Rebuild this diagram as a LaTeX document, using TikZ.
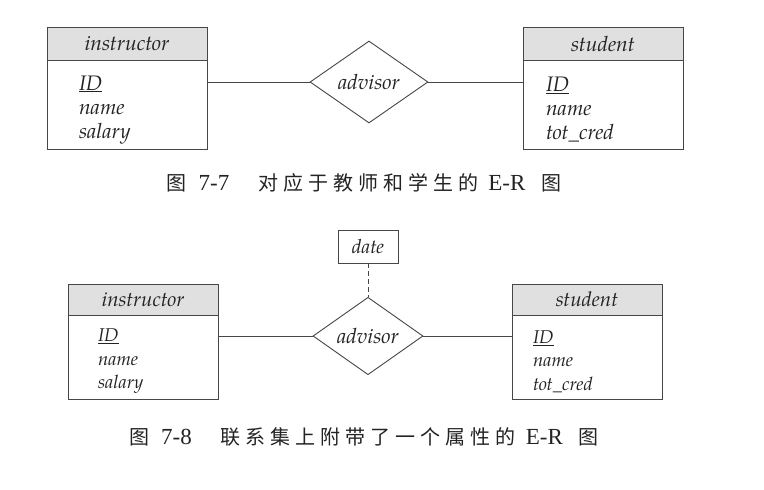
\documentclass[tikz,border=0pt]{standalone}
\usepackage{fontspec}
\setmainfont{TeX Gyre Pagella}
\newfontfamily\cjk[LetterSpace=25]{Noto Sans CJK SC}
\newfontfamily\capnum{Liberation Serif}
\usetikzlibrary{
  shapes.geometric, % Shape "diamond"
  positioning,      % Function "of" (e.g. [below=of x])
}
\definecolor{hdrgray}{RGB}{224,224,224}
\definecolor{lngray}{RGB}{70,70,70}
\definecolor{txtgray}{RGB}{35,35,35}
\newcommand{\key}[1]{\underline{#1}}
\newcommand{\capsize}{\fontsize{20}{24}\selectfont}
\newcommand{\capn}[1]{{\capnum\fontsize{23}{24}\selectfont #1}}
\tikzset{
  semithick,
  my entity/.style={
    draw=lngray,
    line width=0.9pt,
    rectangle,
    inner sep=0pt,
    text=txtgray
  },
  ent head big/.style={
    my entity,
    fill=hdrgray,
    minimum width=160pt,
    minimum height=33pt,
    font=\fontsize{21}{24}\selectfont\itshape
  },
  ent body big/.style={
    my entity,
    minimum width=160pt,
    minimum height=89pt,
    align=left,
    font=\fontsize{21}{24}\selectfont\itshape
  },
  ent head small/.style={
    my entity,
    fill=hdrgray,
    minimum width=150pt,
    minimum height=31pt,
    font=\fontsize{20.5}{24}\selectfont\itshape
  },
  ent body small/.style={
    my entity,
    minimum width=150pt,
    minimum height=84pt,
    align=left,
    font=\fontsize{18.5}{23.5}\selectfont\itshape
  },
  my rel/.style={
    diamond,
    draw=lngray,
    line width=0.9pt,
    inner sep=0pt,
    text=txtgray,
    font=\fontsize{21}{24}\selectfont\itshape
  },
  my attr/.style={
    my entity,
    minimum width=60pt,
    minimum height=33pt,
    font=\fontsize{19.5}{22}\selectfont\itshape
  },
  rel line/.style={
    draw=lngray,
    line width=0.9pt
  },
  attr line/.style={
    rel line,
    dash pattern=on 5pt off 3pt
  },
  my caption/.style={
    text=txtgray,
    inner sep=0pt,
    font=\capsize
  }
}

\begin{document}
\begin{tikzpicture}[x=1pt,y=-1pt]
\useasboundingbox (0,0) rectangle (764,490);
% Figure 7-7
\node[ent head big] (inst1) at (127,43.5) {instructor};
\node[ent body big,inner xsep=32pt,text width=96pt] (inst1b) [below=0pt of inst1]
  {\rule{0pt}{23pt}\key{ID}\\name\\salary};
\node[ent head big] (stud1) at (603,43.5) {student};
\node[ent body big,inner xsep=23pt,text width=114pt] (stud1b) [below=0pt of stud1]
  {\rule{0pt}{23pt}\key{ID}\\name\\tot\_cred};
\node[my rel,minimum width=118pt,minimum height=82pt] (adv1) at (369,82) {advisor};
\draw[rel line] (adv1.west) -- (adv1.west -| inst1b.east);
\draw[rel line] (adv1.east) -- (adv1.east -| stud1b.west);
\node[my caption] (cap1) at (364,183)
  {{\cjk 图}\hspace{12pt}\capn{7-7}\hspace{29pt}{\cjk 对应于教师和学生的}\hspace{10pt}\capn{E-R}\hspace{16pt}{\cjk 图}};
% Figure 7-8
\node[ent head small] (inst2) at (143,299.5) {instructor};
\node[ent body small,inner xsep=30pt,text width=90pt] (inst2b) [below=0pt of inst2]
  {\rule{0pt}{20pt}\key{ID}\\name\\salary};
\node[ent head small] (stud2) at (587,299.5) {student};
\node[ent body small,inner xsep=21pt,text width=108pt] (stud2b) [below=0pt of stud2]
  {\rule{0pt}{20pt}\key{ID}\\name\\tot\_cred};
\node[my rel,minimum width=110pt,minimum height=75pt] (adv2) at (368,336) {advisor};
\node[my attr] (date) at (368,246.5) {date};
\draw[rel line] (adv2.west) -- (adv2.west -| inst2b.east);
\draw[rel line] (adv2.east) -- (adv2.east -| stud2b.west);
\draw[attr line] (date) -- (adv2.north);
\node[my caption] (cap2) at (364,437)
  {{\cjk 图}\hspace{12pt}\capn{7-8}\hspace{29pt}{\cjk 联系集上附带了一个属性的}\hspace{10pt}\capn{E-R}\hspace{16pt}{\cjk 图}};
\end{tikzpicture}
\end{document}
